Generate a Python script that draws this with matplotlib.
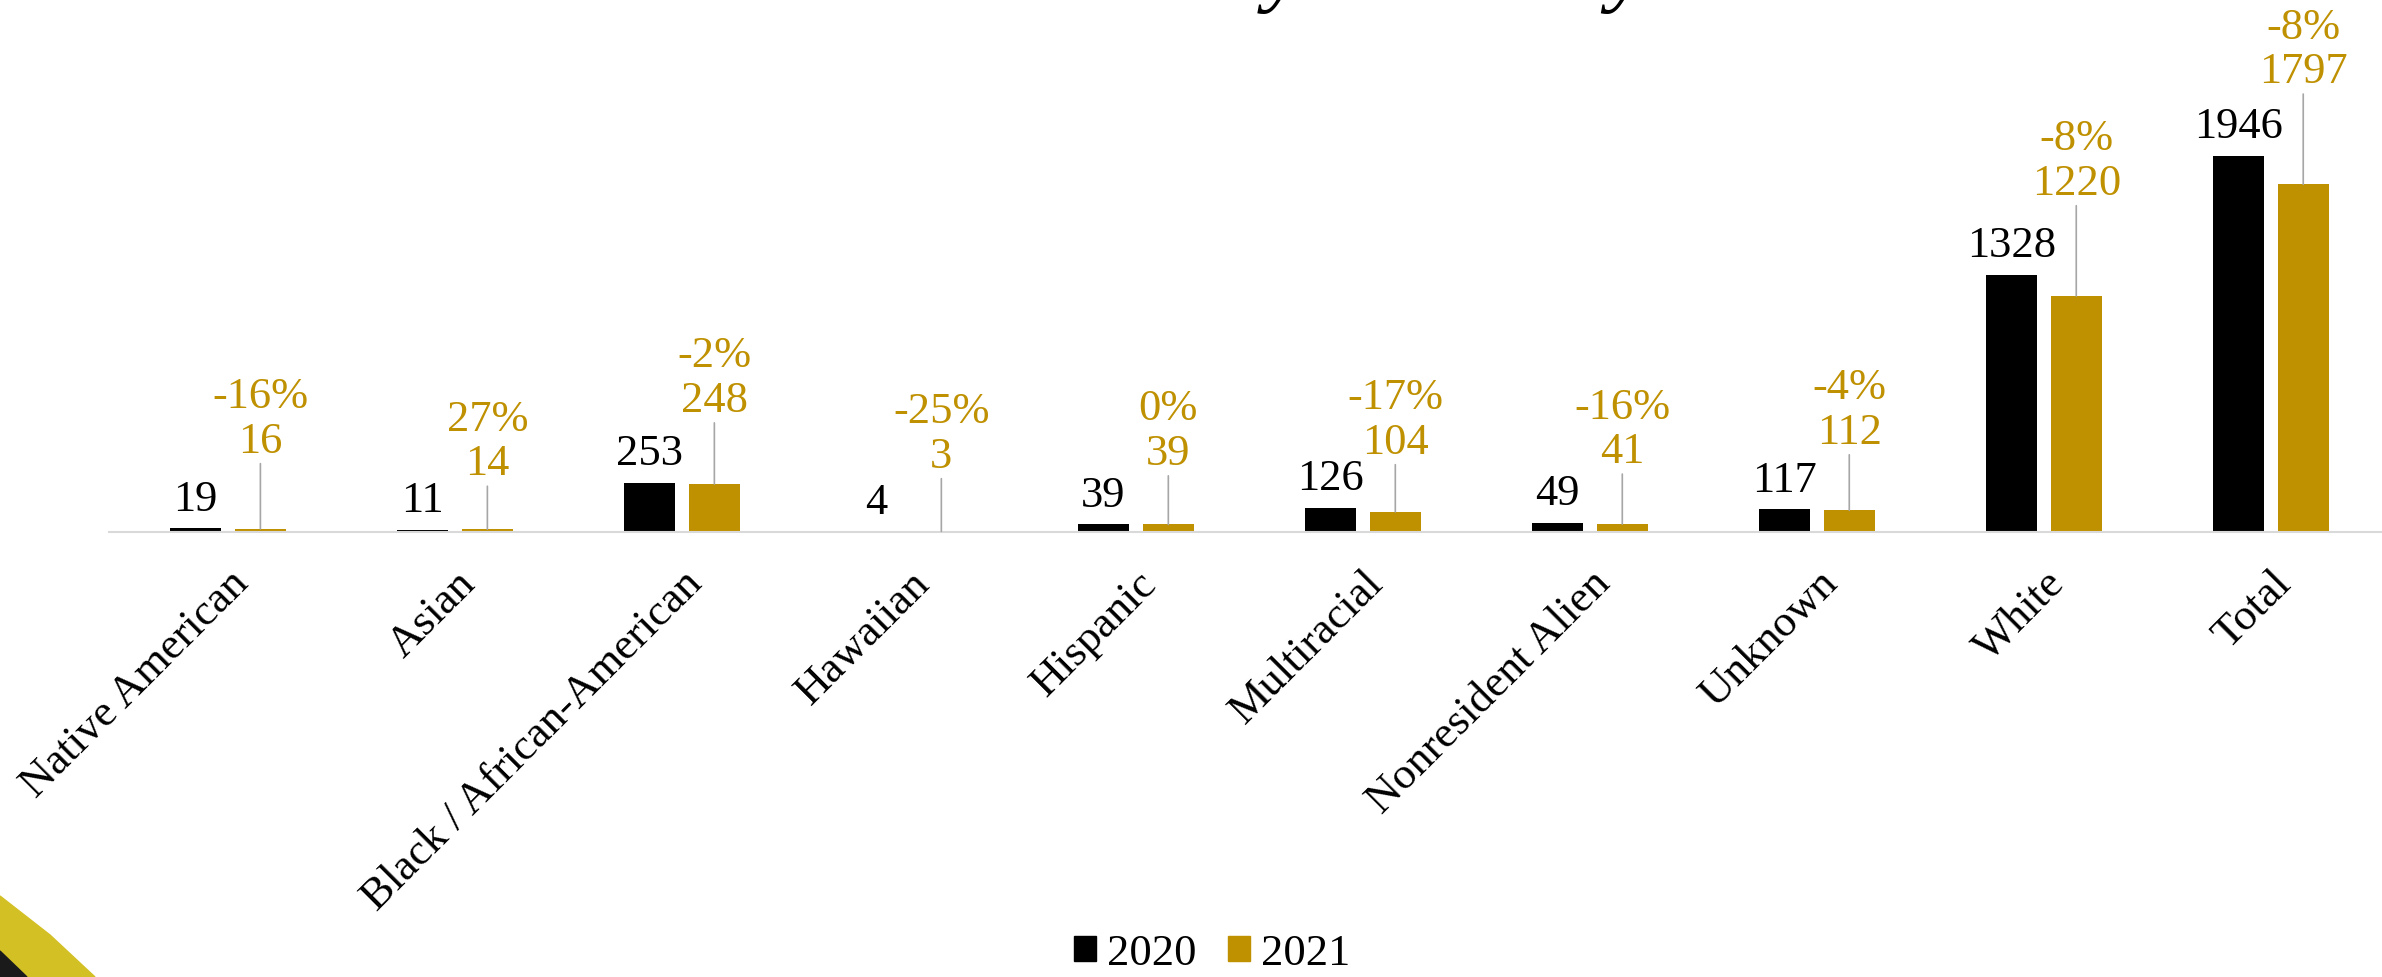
import numpy as np
import matplotlib.pyplot as plt
from matplotlib.patches import Patch, Polygon

# Data
categories = ['Native American', 'Asian', 'Black / African-American', 'Hawaiian',
              'Hispanic', 'Multiracial', 'Nonresident Alien', 'Unknown', 'White', 'Total']
y2020 = [19, 11, 253, 4, 39, 126, 49, 117, 1328, 1946]
y2021 = [16, 14, 248, 3, 39, 104, 41, 112, 1220, 1797]
# leader line lengths (points) for the 2021 labels
leader_pt = [49, 33, 46, 40, 37, 36, 38, 42, 67, 67]

BLACK = '#000000'
GOLD = '#BF9000'
FONT = 'Liberation Serif'

plt.rcParams['font.family'] = FONT

fig = plt.figure(figsize=(23.82, 9.78), dpi=100)
W, H = 2382, 978
ax = fig.add_axes([109 / W, 1 - 533 / H, 1 - 109 / W, 533 / H])

x = np.arange(len(categories))
bw = 0.225
off = 0.143
ax.bar(x - off, y2020, bw, color=BLACK)
ax.bar(x + off, y2021, bw, color=GOLD)

ax.set_xlim(-0.524, 9.49)
ax.set_ylim(0, 2755)

# 2020 value labels
for xi, v in zip(x, y2020):
    ax.annotate(str(v), (xi - off, v), xytext=(0, 7), textcoords='offset points',
                ha='center', va='bottom', fontsize=32, color=BLACK)

# 2021 value labels with % change and leader line
for xi, v0, v1, L in zip(x, y2020, y2021, leader_pt):
    pct = round((v1 - v0) / v0 * 100)
    ax.annotate(f'{pct:.0f}%\n{v1}', (xi + off, v1), xytext=(0, L),
                textcoords='offset points', ha='center', va='bottom',
                fontsize=32, color=GOLD, linespacing=1.15,
                arrowprops=dict(arrowstyle='-', color='#A6A6A6', lw=1.2,
                                shrinkA=0, shrinkB=0))

ax.set_xticks(x)
ax.set_xticklabels(categories, rotation=45, ha='right', rotation_mode='anchor',
                   fontsize=32)
ax.tick_params(axis='x', length=0, pad=22)
ax.set_yticks([])
for s in ['top', 'right', 'left']:
    ax.spines[s].set_visible(False)
ax.spines['bottom'].set_color('#D9D9D9')
ax.spines['bottom'].set_linewidth(1.5)

# title, mostly above the visible area (only the descenders show)
fig.text(1224 / W, 1 + 5 / H, 'Enrollment by Ethnicity', ha='center', va='baseline',
         fontsize=64, style='italic', color=BLACK)

# legend
handles = [Patch(color=BLACK, label='2020'), Patch(color=GOLD, label='2021')]
fig.legend(handles=handles, loc='center', bbox_to_anchor=(1212 / W, 1 - 954 / H),
           ncol=2, frameon=False, fontsize=32, handlelength=0.5, handleheight=0.5,
           handletextpad=0.25, columnspacing=0.7)

# decorative swoosh bottom-left
fig.patches.append(Polygon([(0, 1 - 897 / H), (50 / W, 1 - 936 / H), (95 / W, 0), (0, 0)],
                           closed=True, color='#D3C025', transform=fig.transFigure, zorder=0))
fig.patches.append(Polygon([(0, 1 - 952 / H), (27 / W, 0), (0, 0)], closed=True,
                           color='#1A1A1A', transform=fig.transFigure, zorder=1))

fig.savefig('out.png', dpi=100)
